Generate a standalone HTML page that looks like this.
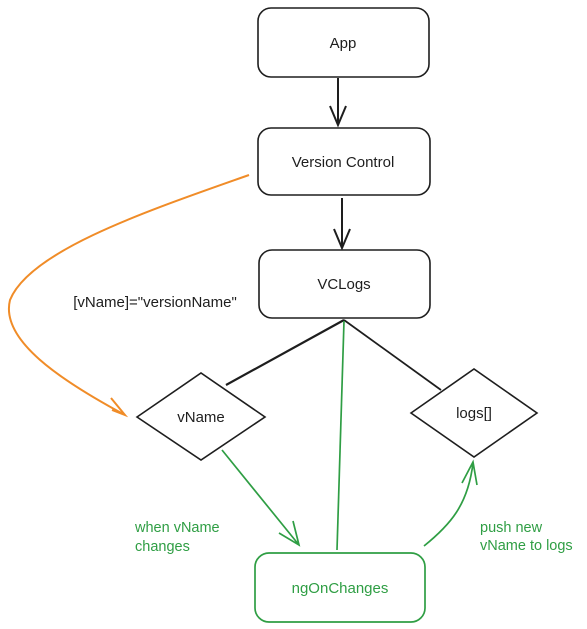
<!DOCTYPE html>
<html><head><style>
body{margin:0;background:#fff;}
svg{display:block;}
text{font-family:"Liberation Sans",sans-serif;}
</style></head><body>
<svg width="587" height="629" viewBox="0 0 587 629" xmlns="http://www.w3.org/2000/svg">
<g fill="none" stroke="#1e1e1e" stroke-width="1.6">
<rect x="258" y="8" width="171" height="69" rx="13"/>
<rect x="258" y="128" width="172" height="67" rx="13"/>
<rect x="259" y="250" width="171" height="68" rx="13"/>
<polygon points="137,417 201,373 265,417 201,460"/>
<polygon points="411,413 474,369 537,413 474,457"/>
<path d="M338 78 L338 124 M330 106 L338 125 L346 106" stroke-width="2"/>
<path d="M342 198 L342 247 M334 229 L342 248 L350 229" stroke-width="2"/>
<path d="M344 320 L226 385" stroke-width="2.2"/>
<path d="M344 320 L441 390" stroke-width="1.8"/>
</g>
<g fill="none" stroke="#2f9e44" stroke-width="1.7">
<rect x="255" y="553" width="170" height="69" rx="14"/>
<path d="M344 321 L337 550"/>
<path d="M222 450 L299 545 M279 533 L299 545 L293 521"/>
<path d="M424 546 C450 525 468 505 473 463 M462 483 L473 462 L477 485"/>
</g>
<path d="M249 175 C150 210 30 250 10 300 C0 340 60 380 125 415 M112 410 L125 415 L111 398" fill="none" stroke="#f08c28" stroke-width="2"/>
<g fill="#1e1e1e" font-size="15" text-anchor="middle">
<text x="343" y="48">App</text>
<text x="343" y="167">Version Control</text>
<text x="344" y="289">VCLogs</text>
<text x="201" y="422">vName</text>
<text x="474" y="418">logs[]</text>
<text x="155" y="307">[vName]="versionName"</text>
</g>
<g fill="#2f9e44" font-size="14.5">
<text x="340" y="593" text-anchor="middle" font-size="15">ngOnChanges</text>
<text x="135" y="532">when vName</text>
<text x="135" y="551">changes</text>
<text x="480" y="532">push new</text>
<text x="480" y="550">vName to logs</text>
</g>
</svg>
</body></html>
